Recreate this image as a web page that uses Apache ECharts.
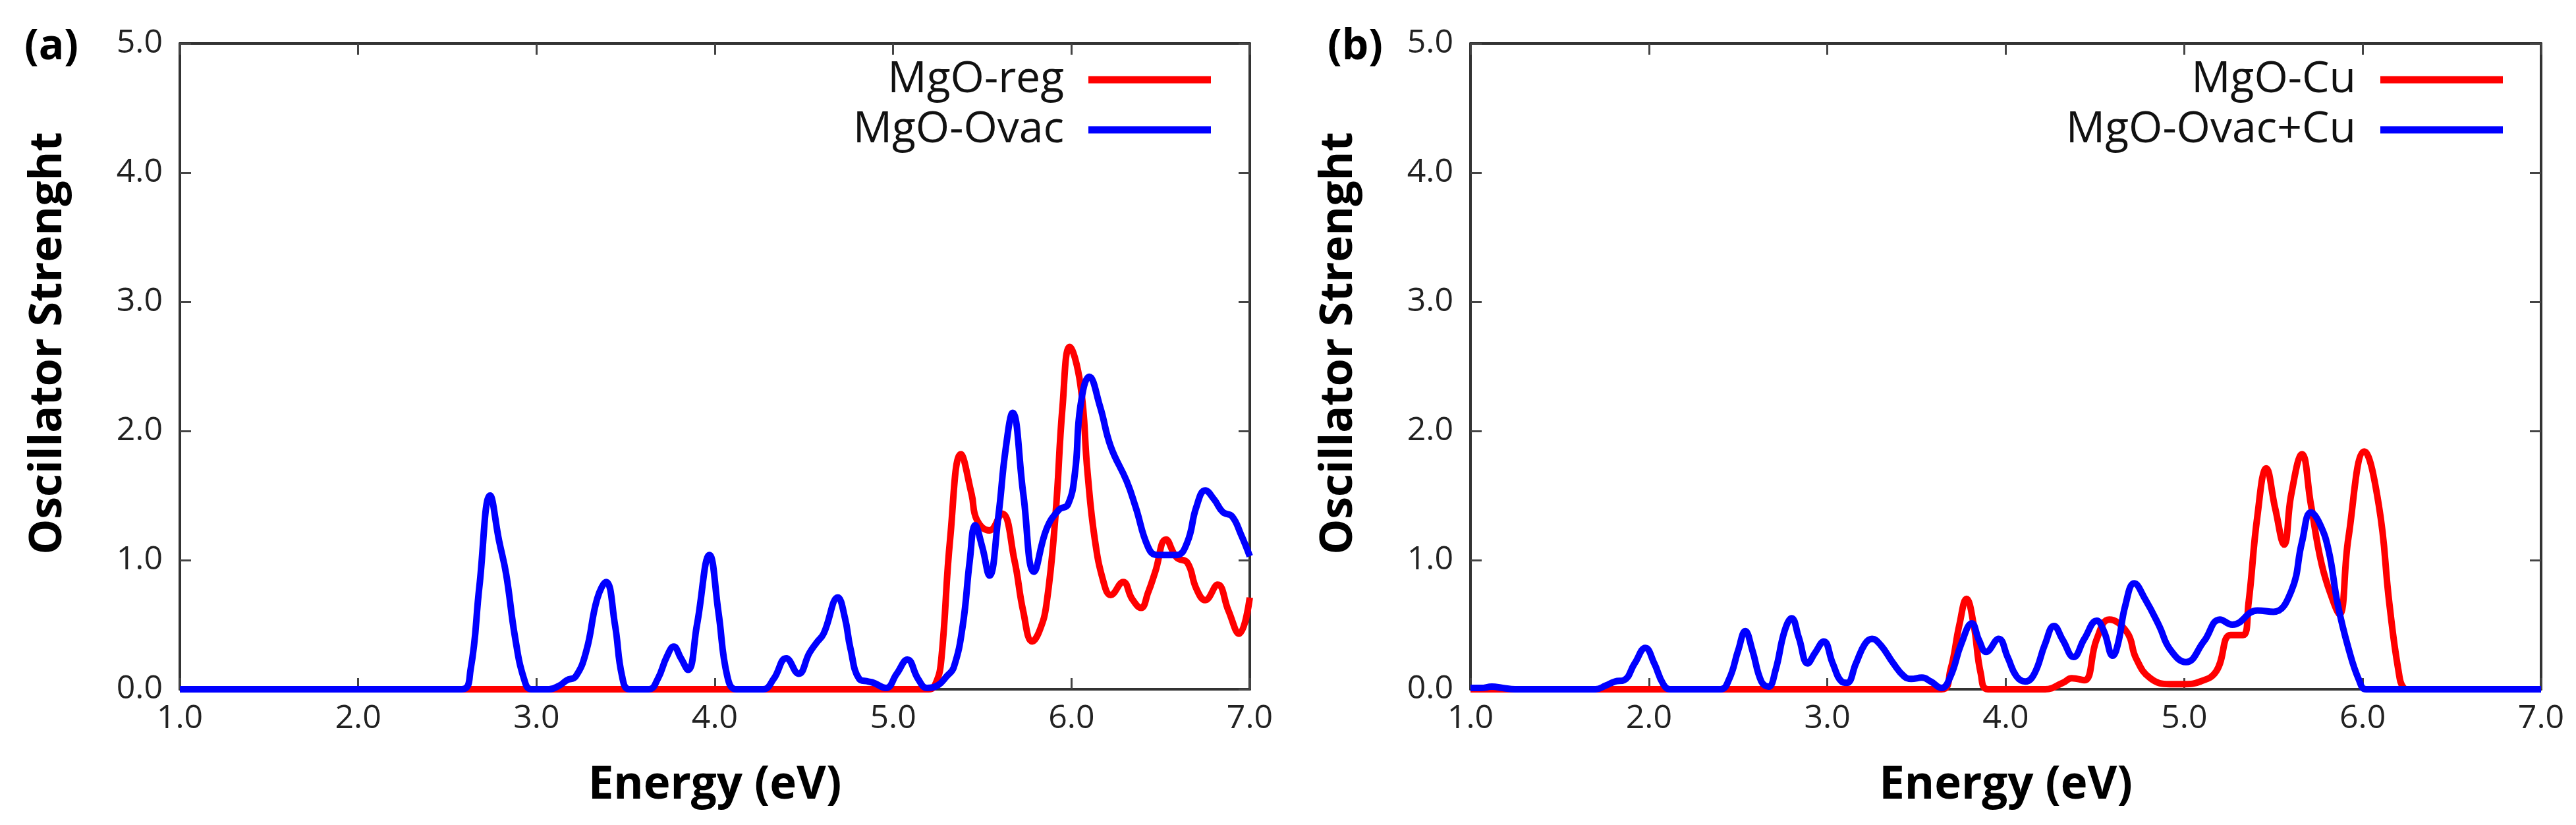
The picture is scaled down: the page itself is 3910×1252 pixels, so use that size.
<!DOCTYPE html>
<html>
<head>
<meta charset="utf-8">
<script src="https://cdn.jsdelivr.net/npm/echarts@6/dist/echarts.min.js"></script>
<style>
  html, body { margin: 0; padding: 0; background: #fff; }
  #chart { width: 3910px; height: 1252px; }
</style>
</head>
<body>
<div id="chart"></div>
<script>
// 刻度
const xTicks = [1, 2, 3, 4, 5, 6, 7];
const yTicks = [0, 1, 2, 3, 4, 5];

// 图例名称
const namesA = ['MgO-reg', 'MgO-Ovac'];
const namesB = ['MgO-Cu', 'MgO-Ovac+Cu'];

// (a) MgO-reg  [能量, 振子强度]
const regRed = [
  [1.0, 0], [5.2, 0], [5.24, 0.05], [5.27, 0.23], [5.32, 1.17], [5.38, 1.82], [5.44, 1.51],
  [5.47, 1.31], [5.54, 1.23], [5.61, 1.36], [5.68, 1.0], [5.73, 0.6], [5.78, 0.37], [5.82, 0.45],
  [5.86, 0.66], [5.91, 1.34], [5.95, 2.19], [5.99, 2.65], [6.05, 2.36], [6.09, 1.68], [6.13, 1.17],
  [6.18, 0.83], [6.22, 0.73], [6.29, 0.83], [6.34, 0.7], [6.39, 0.63], [6.43, 0.75], [6.47, 0.91],
  [6.53, 1.16], [6.59, 1.02], [6.65, 0.98], [6.70, 0.78], [6.75, 0.69], [6.82, 0.81], [6.88, 0.61],
  [6.94, 0.43], [7.0, 0.71]
];

// (a) MgO-Ovac
const ovacBlue = [
  [1.0, 0], [2.58, 0], [2.63, 0.15], [2.68, 0.8], [2.74, 1.5], [2.79, 1.15], [2.83, 0.89],
  [2.88, 0.4], [2.93, 0.08], [2.97, 0], [3.07, 0], [3.13, 0.03], [3.17, 0.07], [3.22, 0.1],
  [3.28, 0.3], [3.34, 0.7], [3.39, 0.83], [3.44, 0.5], [3.48, 0.1], [3.52, 0], [3.63, 0],
  [3.68, 0.08], [3.73, 0.25], [3.77, 0.33], [3.81, 0.24], [3.85, 0.15], [3.9, 0.5], [3.97, 1.04],
  [4.02, 0.6], [4.07, 0.1], [4.12, 0], [4.27, 0], [4.33, 0.08], [4.4, 0.24], [4.47, 0.12],
  [4.53, 0.28], [4.57, 0.36], [4.61, 0.43], [4.69, 0.71], [4.73, 0.55], [4.76, 0.32], [4.81, 0.08],
  [4.86, 0.06], [4.89, 0.05], [4.96, 0.01], [5.02, 0.12], [5.08, 0.23], [5.14, 0.08], [5.19, 0.01],
  [5.25, 0.03], [5.30, 0.1], [5.34, 0.17], [5.39, 0.49], [5.43, 1.0], [5.46, 1.27], [5.50, 1.1],
  [5.54, 0.88], [5.59, 1.34], [5.63, 1.85], [5.67, 2.14], [5.73, 1.51], [5.79, 0.91], [5.86, 1.24],
  [5.93, 1.39], [5.98, 1.43], [6.02, 1.68], [6.05, 2.19], [6.10, 2.42], [6.16, 2.19], [6.22, 1.88],
  [6.31, 1.61], [6.36, 1.41], [6.43, 1.10], [6.48, 1.04], [6.59, 1.04], [6.65, 1.14], [6.70, 1.41],
  [6.75, 1.54], [6.80, 1.47], [6.85, 1.37], [6.90, 1.34], [6.95, 1.20], [7.0, 1.03]
];

// (b) MgO-Cu
const cuRed = [
  [1.0, 0], [3.64, 0], [3.69, 0.15], [3.74, 0.5], [3.78, 0.70], [3.82, 0.5], [3.86, 0.12],
  [3.9, 0], [4.22, 0], [4.32, 0.05], [4.37, 0.085], [4.44, 0.07], [4.51, 0.39], [4.58, 0.54],
  [4.68, 0.44], [4.73, 0.24], [4.81, 0.085], [4.92, 0.04], [5.0, 0.04], [5.09, 0.06], [5.18, 0.14],
  [5.26, 0.42], [5.33, 0.42], [5.36, 0.66], [5.41, 1.34], [5.46, 1.71], [5.51, 1.4], [5.56, 1.12],
  [5.60, 1.51], [5.66, 1.82], [5.71, 1.43], [5.77, 0.97], [5.83, 0.70], [5.87, 0.58], [5.92, 1.17],
  [6.01, 1.84], [6.09, 1.43], [6.15, 0.66], [6.20, 0.15], [6.23, 0.01], [6.26, 0], [7.0, 0]
];

// (b) MgO-Ovac+Cu
const ovacCuBlue = [
  [1.0, 0.01], [1.06, 0.01], [1.12, 0.02], [1.18, 0.01], [1.25, 0], [1.7, 0], [1.76, 0.03],
  [1.81, 0.06], [1.86, 0.07], [1.92, 0.2], [1.98, 0.32], [2.03, 0.2], [2.08, 0.04], [2.12, 0],
  [2.40, 0], [2.45, 0.08], [2.50, 0.3], [2.54, 0.45], [2.58, 0.3], [2.63, 0.06], [2.67, 0.02],
  [2.71, 0.15], [2.76, 0.45], [2.80, 0.55], [2.84, 0.4], [2.89, 0.2], [2.93, 0.28], [2.98, 0.37],
  [3.03, 0.2], [3.08, 0.06], [3.11, 0.05], [3.16, 0.2], [3.21, 0.35], [3.25, 0.39], [3.30, 0.34],
  [3.37, 0.2], [3.43, 0.1], [3.47, 0.08], [3.53, 0.09], [3.58, 0.06], [3.64, 0.01], [3.69, 0.1],
  [3.75, 0.35], [3.81, 0.51], [3.85, 0.38], [3.89, 0.29], [3.96, 0.39], [4.01, 0.25], [4.06, 0.1],
  [4.11, 0.06], [4.16, 0.12], [4.22, 0.35], [4.27, 0.49], [4.32, 0.38], [4.38, 0.25], [4.44, 0.39],
  [4.51, 0.53], [4.55, 0.45], [4.60, 0.26], [4.63, 0.36], [4.67, 0.65], [4.72, 0.82], [4.78, 0.7],
  [4.86, 0.49], [4.92, 0.31], [5.01, 0.21], [5.11, 0.37], [5.20, 0.54], [5.27, 0.50], [5.41, 0.61],
  [5.50, 0.60], [5.60, 0.76], [5.66, 1.14], [5.71, 1.37], [5.76, 1.28], [5.81, 1.07], [5.86, 0.66],
  [5.92, 0.32], [5.98, 0.07], [6.02, 0], [7.0, 0]
];

const RED = '#ff0000';
const BLUE = '#0000ff';
const FONT = 'Open Sans';

// 坐标轴（四边框 + 内向刻度）
const axisLine = { show: true, onZero: false, lineStyle: { color: '#333', width: 4 } };
const axisTick = { show: true, inside: true, length: 17, lineStyle: { color: '#444', width: 3 } };

const makeX = (gridIndex) => ([
  {
    gridIndex, type: 'value', position: 'bottom',
    min: xTicks[0], max: xTicks[xTicks.length - 1], interval: 1,
    axisLine, axisTick, splitLine: { show: false },
    axisLabel: { formatter: v => v.toFixed(1), fontSize: 50, color: '#222', fontFamily: FONT, margin: 20 },
    name: 'Energy (eV)', nameLocation: 'middle', nameGap: 112,
    nameTextStyle: { fontSize: 69, fontWeight: 'bold', color: '#000', fontFamily: FONT }
  },
  {
    gridIndex, type: 'value', position: 'top',
    min: xTicks[0], max: xTicks[xTicks.length - 1], interval: 1,
    axisLine, axisTick, splitLine: { show: false }, axisLabel: { show: false }
  }
]);

const makeY = (gridIndex) => ([
  {
    gridIndex, type: 'value', position: 'left',
    min: yTicks[0], max: yTicks[yTicks.length - 1], interval: 1,
    axisLine, axisTick, splitLine: { show: false },
    axisLabel: { formatter: v => v.toFixed(1), fontSize: 50, color: '#222', fontFamily: FONT, margin: 26 },
    name: 'Oscillator Strenght', nameLocation: 'middle', nameGap: 165,
    nameTextStyle: { fontSize: 68, fontWeight: 'bold', color: '#000', fontFamily: FONT, padding: [0, 0, 0, 70] }
  },
  {
    gridIndex, type: 'value', position: 'right',
    min: yTicks[0], max: yTicks[yTicks.length - 1], interval: 1,
    axisLine, axisTick, splitLine: { show: false }, axisLabel: { show: false }
  }
]);

const makeSeries = (name, data, color, xAxisIndex, yAxisIndex) => ({
  name, type: 'line', data, xAxisIndex, yAxisIndex,
  smooth: 0.45, symbol: 'none', clip: true,
  lineStyle: { color, width: 10 }, itemStyle: { color }
});

const makeLegend = (data, right) => ({
  data, orient: 'vertical', right, top: 88, align: 'right', padding: 0,
  icon: 'rect', itemWidth: 186, itemHeight: 11, itemGap: 10,
  textStyle: { fontSize: 66, color: '#111', fontFamily: FONT, lineHeight: 66, padding: [0, 32, 0, 0] },
  selectedMode: false
});

const chart = echarts.init(document.getElementById('chart'));
chart.setOption({
  animation: false,
  backgroundColor: '#fff',
  title: [
    { text: '(a)', left: 37, top: 40, padding: 0, textStyle: { fontSize: 64, fontWeight: 'bold', color: '#000', fontFamily: FONT } },
    { text: '(b)', left: 2015, top: 40, padding: 0, textStyle: { fontSize: 64, fontWeight: 'bold', color: '#000', fontFamily: FONT } }
  ],
  grid: [
    { left: 273, top: 66, width: 1624, height: 980 },
    { left: 2232, top: 66, width: 1625, height: 980 }
  ],
  xAxis: [...makeX(0), ...makeX(1)],
  yAxis: [...makeY(0), ...makeY(1)],
  legend: [makeLegend(namesA, 2072), makeLegend(namesB, 111)],
  series: [
    makeSeries(namesA[0], regRed, RED, 0, 0),
    makeSeries(namesA[1], ovacBlue, BLUE, 0, 0),
    makeSeries(namesB[0], cuRed, RED, 2, 2),
    makeSeries(namesB[1], ovacCuBlue, BLUE, 2, 2)
  ]
});
</script>
</body>
</html>
